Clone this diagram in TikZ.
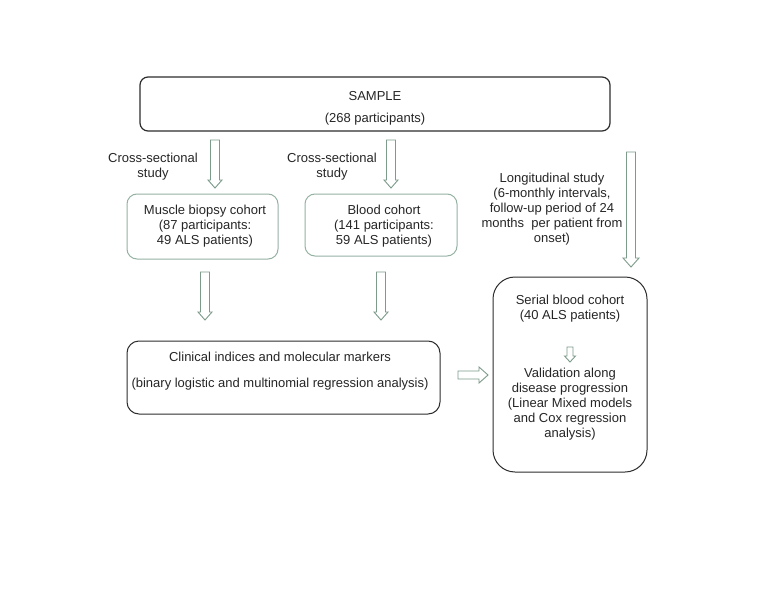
\documentclass[tikz,border=0pt]{standalone}
\usepackage{fontspec}
\setmainfont{Liberation Sans}
\definecolor{arrowgreen}{RGB}{125,155,138}
\definecolor{boxgreen}{RGB}{150,178,163}
\definecolor{boxdark}{RGB}{45,45,45}
\newcommand\vblkarrow[6]{% x, ytop, ybot, shaft half, head half, head length
  \draw[blk] (#1-#4,#2) -- (#1+#4,#2) -- (#1+#4,#3-#6) -- (#1+#5,#3-#6) -- (#1,#3)
    -- (#1-#5,#3-#6) -- (#1-#4,#3-#6) -- cycle;}
\newcommand\hblkarrow[6]{% y, xleft, xright, shaft half, head half, head length
  \draw[blk] (#2,#1-#4) -- (#2,#1+#4) -- (#3-#6,#1+#4) -- (#3-#6,#1+#5) -- (#3,#1)
    -- (#3-#6,#1-#5) -- (#3-#6,#1-#4) -- cycle;}
\begin{document}
\begin{tikzpicture}[x=1pt,y=-1pt,
  txt/.style={font=\fontsize{13}{15}\selectfont, align=center, inner sep=0pt, text=black!85},
  gbox/.style={draw=boxgreen, line width=1pt, rounded corners=10pt, inner sep=0pt},
  kbox/.style={draw=boxdark, line width=1pt, inner sep=0pt},
  blk/.style={draw=arrowgreen, line width=0.9pt, fill=white, line join=miter}]
\useasboundingbox (0,0) rectangle (768,615);
\fill[white] (0,0) rectangle (768,615);

% boxes
\node[kbox, rounded corners=8pt, line width=1.2pt, minimum width=470pt, minimum height=54pt] (sample) at (375,104) {};
\node[gbox, minimum width=151pt, minimum height=65pt] (muscle) at (202.5,226.5) {};
\node[gbox, minimum width=152pt, minimum height=62pt] (blood) at (381,225) {};
\node[kbox, rounded corners=12pt, minimum width=313pt, minimum height=73pt] (clinical) at (283.5,377.5) {};
\node[kbox, rounded corners=22pt, minimum width=154pt, minimum height=195pt] (serial) at (570,374.5) {};

% texts
\node[txt] (sampletxt) at (375,108) {SAMPLE\\[7pt](268 participants)};
\node[txt] (cs1) at (153,167) {Cross-sectional\\study};
\node[txt] (cs2) at (332,167) {Cross-sectional\\study};
\node[txt] (long) at (552,209.5) {Longitudinal study\\(6-monthly intervals,\\follow-up period of 24\\months\ \ per patient from\\onset)};
\node[txt] (muscletxt) at (205,226) {Muscle biopsy cohort\\(87 participants:\\49 ALS patients)};
\node[txt] (bloodtxt) at (384,226) {Blood cohort\\(141 participants:\\59 ALS patients)};
\node[txt] (clinicaltxt) at (280,371.5) {Clinical indices and molecular markers\\[11pt](binary logistic and multinomial regression analysis)};
\node[txt] (serialtxt) at (570,309) {Serial blood cohort\\(40 ALS patients)};
\node[txt] (validtxt) at (570,404) {Validation along\\disease progression\\(Linear Mixed models\\and Cox regression\\analysis)};

% block arrows
\vblkarrow{215}{140}{188}{4.5}{7}{8}
\vblkarrow{391}{140}{188}{4.5}{7}{8}
\vblkarrow{631}{152}{267}{4.5}{8}{9}
\vblkarrow{205}{272}{320}{4.5}{7}{8}
\vblkarrow{381}{272}{320}{4.5}{7}{8}
\vblkarrow{570}{347}{362}{3}{5.5}{6}
\hblkarrow{375}{458}{488}{4}{8}{9}
\end{tikzpicture}
\end{document}
